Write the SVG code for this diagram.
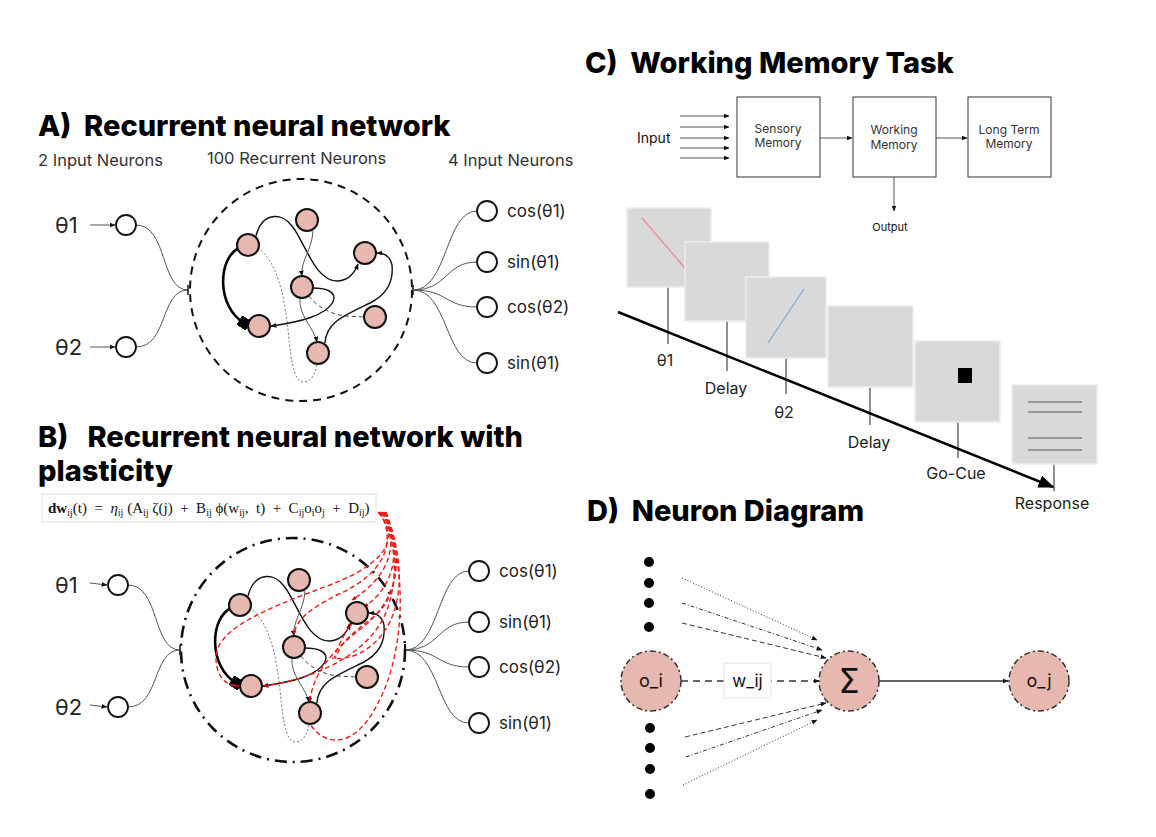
<svg xmlns="http://www.w3.org/2000/svg" width="1156" height="837" viewBox="0 0 1156 837">
<style>
text{font-family:Inter,"Liberation Sans",sans-serif;fill:#111}
.title{font-weight:800;font-size:29px;fill:#000}
.sub{font-size:16.5px;fill:#333}
.theta{font-size:22px;fill:#222}
.out{font-size:17px;fill:#222;dominant-baseline:central}
.io{fill:#fff;stroke:#111;stroke-width:1.8}
.rn{fill:#e6b8af;stroke:#111;stroke-width:2}
.wire{fill:none;stroke:#555;stroke-width:1}
.blk{fill:none;stroke:#111;stroke-width:1.4}
.red{fill:none;stroke:#ee1c1c;stroke-width:1.4;stroke-dasharray:5,3}
.sq{fill:#d9d9d9;stroke:#ececec;stroke-width:1.5}
.tick{stroke:#444;stroke-width:1.2}
.lbl{font-size:16px;fill:#222;text-anchor:middle}
.box{fill:#fff;stroke:#333;stroke-width:1}
.bt{font-size:12px;fill:#333;text-anchor:middle}
.dn{fill:#e6b8af;stroke:#333;stroke-width:1.5;stroke-dasharray:6,3,2,3}
.dot{fill:#000}
.eq{font-family:"Liberation Serif",serif;font-size:15px;fill:#111}
</style>
<defs>
<marker id="arr" viewBox="0 0 10 10" refX="9" refY="5" markerWidth="6" markerHeight="6" markerUnits="userSpaceOnUse" orient="auto"><path d="M0,1 L10,5 L0,9 z" fill="#111"/></marker>
<marker id="arrR" viewBox="0 0 10 10" refX="9" refY="5" markerWidth="5" markerHeight="5" markerUnits="userSpaceOnUse" orient="auto"><path d="M0,1 L10,5 L0,9 z" fill="#cc0000"/></marker>
<marker id="arrB" viewBox="0 0 10 10" refX="9" refY="5" markerWidth="16" markerHeight="16" markerUnits="userSpaceOnUse" orient="auto"><path d="M0,1 L10,5 L0,9 z" fill="#000"/></marker>
<marker id="sq" viewBox="0 0 10 10" refX="5" refY="5" markerWidth="11" markerHeight="11" markerUnits="userSpaceOnUse" orient="auto"><rect x="0" y="0" width="10" height="10" fill="#000"/></marker>
</defs>
<rect width="1156" height="837" fill="#fff"/>

<!-- Titles -->
<text class="title" x="38" y="136" xml:space="preserve">A)  Recurrent neural network</text>
<text class="title" x="38" y="447" xml:space="preserve">B)   Recurrent neural network with</text>
<text class="title" x="38" y="481">plasticity</text>
<text class="title" x="585" y="73" xml:space="preserve">C)  Working Memory Task</text>
<text class="title" x="587" y="521" xml:space="preserve">D)  Neuron Diagram</text>

<!-- Panel A -->
<g id="panelA">
<text class="sub" x="38" y="166">2 Input Neurons</text>
<text class="sub" x="207" y="164">100 Recurrent Neurons</text>
<text class="sub" x="448" y="166">4 Input Neurons</text>
<text class="theta" x="55" y="233">θ1</text>
<text class="theta" x="55" y="355">θ2</text>
<g id="A-connectors">
<path class="wire" d="M90,225 L115,225" marker-end="url(#arr)"/>
<path class="wire" d="M90,347 L115,347" marker-end="url(#arr)"/>
<path class="wire" d="M136,225 C168,225 160,290 188,290"/>
<path class="wire" d="M136,347 C168,347 160,290 188,290"/>
<line x1="188" y1="285" x2="188" y2="295" stroke="#111" stroke-width="1.5"/>
<line x1="413" y1="285" x2="413" y2="295" stroke="#111" stroke-width="1.5"/>
<path class="wire" d="M413,290 C448,290 445,211 477,211"/>
<path class="wire" d="M413,290 C448,290 445,262 477,262"/>
<path class="wire" d="M413,290 C448,290 445,307 477,307"/>
<path class="wire" d="M413,290 C448,290 445,363 477,363"/>
<circle cx="301" cy="290" r="111" fill="none" stroke="#111" stroke-width="2" stroke-dasharray="8,6"/>
<path class="blk" d="M256,236 C262,212 282,212 292,226 C305,242 315,282 338,281 C350,280 355,272 358,264" marker-end="url(#arr)"/>
<path fill="none" stroke="#000" stroke-width="2.6" d="M239,248 C218,258 216,306 244,323" marker-end="url(#sq)"/>
<path fill="none" stroke="#777" stroke-width="1" stroke-dasharray="2,2" d="M258,248 C278,262 285,300 288,330 C292,370 295,383 305,382 C312,381 316,372 317,364"/>
<path class="wire" d="M313,231 C312,250 300,262 302,276" marker-end="url(#arr)"/>
<path class="blk" d="M313,288 C322,288 338,290 333,302 C325,316 300,322 271,326" stroke-width="1.2" marker-end="url(#arr)"/>
<path fill="none" stroke="#444" stroke-width="1" stroke-dasharray="4,3" d="M309,296 C316,306 330,314 345,316 L364,317"/>
<path class="wire" d="M300,298 C298,315 314,328 317,342" marker-end="url(#arr)"/>
<path class="blk" d="M325,343 C326,322 345,315 370,303 C392,292 393,275 392,265 C390,256 385,253 377,253" marker-end="url(#arr)"/>
</g>
<g id="A-in1"><circle class="io" cx="126" cy="225" r="10"/></g>
<g id="A-in2"><circle class="io" cx="126" cy="347" r="10"/></g>
<g id="A-n1"><circle class="rn" cx="307" cy="220" r="11"/></g>
<g id="A-n2"><circle class="rn" cx="248" cy="245" r="11"/></g>
<g id="A-n3"><circle class="rn" cx="365" cy="253" r="11"/></g>
<g id="A-n4"><circle class="rn" cx="302" cy="287" r="11"/></g>
<g id="A-n5"><circle class="rn" cx="259" cy="326" r="11"/></g>
<g id="A-n6"><circle class="rn" cx="375" cy="317" r="11"/></g>
<g id="A-n7"><circle class="rn" cx="318" cy="353" r="11"/></g>
<g id="A-o1"><circle class="io" cx="487" cy="211" r="10"/><text class="out" x="507" y="211">cos(θ1)</text></g>
<g id="A-o2"><circle class="io" cx="487" cy="262" r="10"/><text class="out" x="507" y="262">sin(θ1)</text></g>
<g id="A-o3"><circle class="io" cx="487" cy="307" r="10"/><text class="out" x="507" y="307">cos(θ2)</text></g>
<g id="A-o4"><circle class="io" cx="487" cy="363" r="10"/><text class="out" x="507" y="363">sin(θ1)</text></g>
</g>

<!-- Panel B -->
<g id="eqbox">
<rect x="42" y="494" width="334" height="28" fill="#fff" stroke="#ddd" stroke-width="1"/>
<text class="eq" x="48" y="513" xml:space="preserve"><tspan font-weight="700">dw</tspan><tspan font-size="10" dy="3">ij</tspan><tspan dy="-3">(t)  =  </tspan><tspan font-style="italic">η</tspan><tspan font-size="10" dy="3">ij</tspan><tspan dy="-3"> (A</tspan><tspan font-size="10" dy="3">ij</tspan><tspan dy="-3"> ζ(j)  +  B</tspan><tspan font-size="10" dy="3">ij</tspan><tspan dy="-3"> ϕ(w</tspan><tspan font-size="10" dy="3">ij</tspan><tspan dy="-3">,  t)  +  C</tspan><tspan font-size="10" dy="3">ij</tspan><tspan dy="-3">o</tspan><tspan font-size="10" dy="3">i</tspan><tspan dy="-3">o</tspan><tspan font-size="10" dy="3">j</tspan><tspan dy="-3">  +  D</tspan><tspan font-size="10" dy="3">ij</tspan><tspan dy="-3">)</tspan></text>
</g>
<g id="panelB" transform="translate(-8,360)">
<text class="theta" x="63" y="233">θ1</text>
<text class="theta" x="63" y="355">θ2</text>
<g id="B-connectors">
<path class="wire" d="M98,223 L115,225" marker-end="url(#arr)"/>
<path class="wire" d="M98,345 L115,347" marker-end="url(#arr)"/>
<path class="wire" d="M136,225 C168,225 160,290 188,290"/>
<path class="wire" d="M136,347 C168,347 160,290 188,290"/>
<line x1="188" y1="285" x2="188" y2="295" stroke="#111" stroke-width="1.5"/>
<line x1="413" y1="284" x2="413" y2="296" stroke="#111" stroke-width="2"/>
<path class="wire" d="M413,290 C448,290 445,211 477,211"/>
<path class="wire" d="M413,290 C448,290 445,262 477,262"/>
<path class="wire" d="M413,290 C448,290 445,307 477,307"/>
<path class="wire" d="M413,290 C448,290 445,363 477,363"/>
<circle cx="301" cy="290" r="112" fill="none" stroke="#111" stroke-width="2.6" stroke-dasharray="12,6,2,6"/>
<path class="blk" d="M256,236 C262,212 282,212 292,226 C305,242 315,282 338,281 C350,280 355,272 358,264" marker-end="url(#arr)"/>
<path fill="none" stroke="#000" stroke-width="2.6" d="M239,248 C218,258 216,306 244,323" marker-end="url(#sq)"/>
<path fill="none" stroke="#777" stroke-width="1" stroke-dasharray="2,2" d="M258,248 C278,262 285,300 288,330 C292,370 295,383 305,382 C312,381 316,372 317,364"/>
<path class="wire" d="M313,231 C312,250 300,262 302,276" marker-end="url(#arr)"/>
<path class="blk" d="M313,288 C322,288 338,290 333,302 C325,316 300,322 271,326" stroke-width="1.2" marker-end="url(#arr)"/>
<path fill="none" stroke="#444" stroke-width="1" stroke-dasharray="4,3" d="M309,296 C316,306 330,314 345,316 L364,317"/>
<path class="wire" d="M300,298 C298,315 314,328 317,342" marker-end="url(#arr)"/>
<path class="blk" d="M325,343 C326,322 345,315 370,303 C392,292 393,275 392,265 C390,256 385,253 377,253" marker-end="url(#arr)"/>
</g>
<g id="B-plasticity">
<path class="red" d="M386,152 C405,175 402,200 338,225 C270,250 222,270 224,300 C225,318 235,326 247,326" marker-end="url(#arrR)"/>
<path class="red" d="M387,152 C408,185 404,225 395,250 C380,290 330,318 271,326" marker-end="url(#arrR)"/>
<path class="red" d="M388,152 C406,185 390,215 345,235 C315,250 303,262 302,275" marker-end="url(#arrR)"/>
<path class="red" d="M389,152 C408,180 400,215 360,240" marker-end="url(#arrR)"/>
<path class="red" d="M390,152 C410,185 405,225 372,247" marker-end="url(#arrR)"/>
<path class="red" d="M391,152 C412,200 405,240 380,258 C365,270 350,280 345,295 C340,305 342,290 360,262" marker-end="url(#arrR)"/>
<path class="red" d="M392,152 C415,200 405,240 370,268 C340,290 320,315 318,342" marker-end="url(#arrR)"/>
<path class="red" d="M393,152 C418,220 410,300 385,345 C365,385 335,390 318,364"/>
<path class="red" d="M394,152 C416,210 410,260 380,285 C365,298 348,300 340,298"/>
</g>
<g id="B-in1"><circle class="io" cx="126" cy="225" r="10"/></g>
<g id="B-in2"><circle class="io" cx="126" cy="347" r="10"/></g>
<g id="B-n1"><circle class="rn" cx="307" cy="220" r="11"/></g>
<g id="B-n2"><circle class="rn" cx="248" cy="245" r="11"/></g>
<g id="B-n3"><circle class="rn" cx="365" cy="253" r="11"/></g>
<g id="B-n4"><circle class="rn" cx="302" cy="287" r="11"/></g>
<g id="B-n5"><circle class="rn" cx="259" cy="326" r="11"/></g>
<g id="B-n6"><circle class="rn" cx="375" cy="317" r="11"/></g>
<g id="B-n7"><circle class="rn" cx="318" cy="353" r="11"/></g>
<g id="B-o1"><circle class="io" cx="487" cy="211" r="10"/><text class="out" x="507" y="211">cos(θ1)</text></g>
<g id="B-o2"><circle class="io" cx="487" cy="262" r="10"/><text class="out" x="507" y="262">sin(θ1)</text></g>
<g id="B-o3"><circle class="io" cx="487" cy="307" r="10"/><text class="out" x="507" y="307">cos(θ2)</text></g>
<g id="B-o4"><circle class="io" cx="487" cy="363" r="10"/><text class="out" x="507" y="363">sin(θ1)</text></g>
</g>

<!-- Panel C: memory model -->
<g id="C-connectors">
<path class="wire" d="M680,116 L729,116" marker-end="url(#arr)"/>
<path class="wire" d="M680,127 L729,127" marker-end="url(#arr)"/>
<path class="wire" d="M680,138 L729,138" marker-end="url(#arr)"/>
<path class="wire" d="M680,148 L729,148" marker-end="url(#arr)"/>
<path class="wire" d="M680,158 L729,158" marker-end="url(#arr)"/>
<path class="wire" d="M820,138 L852,138" marker-end="url(#arr)"/>
<path class="wire" d="M936,138 L967,138" marker-end="url(#arr)"/>
<path class="wire" d="M894,177 L894,211" marker-end="url(#arr)"/>
</g>
<text x="637" y="143" font-size="14" fill="#333">Input</text>
<g id="C-sensory"><rect class="box" x="737" y="97" width="83" height="80"/><text class="bt" x="778" y="133">Sensory</text><text class="bt" x="778" y="147">Memory</text></g>
<g id="C-working"><rect class="box" x="853" y="97" width="83" height="80"/><text class="bt" x="894" y="134">Working</text><text class="bt" x="894" y="149">Memory</text></g>
<g id="C-longterm"><rect class="box" x="968" y="97" width="83" height="80"/><text class="bt" x="1009" y="134">Long Term</text><text class="bt" x="1009" y="148">Memory</text></g>
<text x="890" y="231" font-size="11" fill="#333" text-anchor="middle">Output</text>

<!-- Panel C: timeline -->
<g id="timeline">
<line class="tick" x1="668" y1="287" x2="668" y2="344"/>
<line class="tick" x1="727" y1="321" x2="727" y2="371"/>
<line class="tick" x1="786" y1="358" x2="786" y2="394"/>
<line class="tick" x1="870" y1="387" x2="870" y2="425"/>
<line class="tick" x1="958" y1="422" x2="958" y2="458"/>
<line class="tick" x1="1054" y1="464" x2="1054" y2="491"/>
<line x1="618" y1="312" x2="1053" y2="487" stroke="#000" stroke-width="2.5" marker-end="url(#arrB)"/>
<g id="C-t1"><rect class="sq" x="627" y="208" width="84" height="79"/><line x1="642" y1="218" x2="690" y2="274" stroke="#e88" stroke-width="1.2"/></g>
<g id="C-t2"><rect class="sq" x="685" y="242" width="84" height="79"/></g>
<g id="C-t3"><rect class="sq" x="746" y="277" width="80" height="81"/><line x1="768" y1="343" x2="804" y2="289" stroke="#7aa6e0" stroke-width="1.2"/></g>
<g id="C-t4"><rect class="sq" x="828" y="306" width="85" height="81"/></g>
<g id="C-t5"><rect class="sq" x="915" y="341" width="85" height="81"/><rect x="958" y="368" width="14" height="15" fill="#000"/></g>
<g id="C-t6"><rect class="sq" x="1012" y="385" width="85" height="79"/>
<g stroke="#555" stroke-width="1"><line x1="1028" y1="402" x2="1082" y2="402"/><line x1="1028" y1="412" x2="1082" y2="412"/><line x1="1028" y1="438" x2="1082" y2="438"/><line x1="1028" y1="450" x2="1082" y2="450"/></g></g>
<text class="lbl" x="665" y="366">θ1</text>
<text class="lbl" x="726" y="394">Delay</text>
<text class="lbl" x="784" y="418">θ2</text>
<text class="lbl" x="869" y="448">Delay</text>
<text class="lbl" x="956" y="479">Go-Cue</text>
<text class="lbl" x="1052" y="509">Response</text>
</g>

<!-- Panel D -->
<g id="D-dots">
<circle class="dot" cx="649" cy="562" r="5"/><circle class="dot" cx="649" cy="583" r="5"/><circle class="dot" cx="649" cy="603" r="5"/><circle class="dot" cx="649" cy="627" r="5"/>
<circle class="dot" cx="650" cy="728" r="5"/><circle class="dot" cx="650" cy="748" r="5"/><circle class="dot" cx="650" cy="769" r="5"/><circle class="dot" cx="650" cy="794" r="5"/>
</g>
<g id="D-connectors" fill="none" stroke="#333" stroke-width="1">
<path d="M682,578 L817,640" stroke-dasharray="1,2" marker-end="url(#arr)"/>
<path d="M682,603 L822,650" stroke-dasharray="4,2,1,2" marker-end="url(#arr)"/>
<path d="M682,623 L826,658" stroke-dasharray="5,3" marker-end="url(#arr)"/>
<path d="M685,737 L826,703" stroke-dasharray="5,3" marker-end="url(#arr)"/>
<path d="M686,757 L822,710" stroke-dasharray="4,2,1,2" marker-end="url(#arr)"/>
<path d="M683,785 L817,720" stroke-dasharray="1,2" marker-end="url(#arr)"/>
<path d="M681,681 L819,681" stroke-width="1.5" stroke-dasharray="7,5" marker-end="url(#arr)"/>
<path d="M879,681 L1008,681" stroke-width="1.5" marker-end="url(#arr)"/>
</g>
<g id="D-wij"><rect x="724" y="663" width="47" height="35" fill="#fff" stroke="#e4e4e4"/><text x="747.5" y="687" font-size="17" text-anchor="middle" fill="#222">w_ij</text></g>
<g id="D-oi"><circle class="dn" cx="651" cy="681" r="30"/><text x="651" y="687" font-size="18" text-anchor="middle" fill="#222">o_i</text></g>
<g id="D-sum"><circle class="dn" cx="849" cy="681" r="30"/><text x="849" y="693" font-size="34" text-anchor="middle" fill="#111" style="font-family:'DejaVu Sans',sans-serif">Σ</text></g>
<g id="D-oj"><circle class="dn" cx="1039" cy="681" r="30"/><text x="1039" y="687" font-size="18" text-anchor="middle" fill="#222">o_j</text></g>
</svg>
